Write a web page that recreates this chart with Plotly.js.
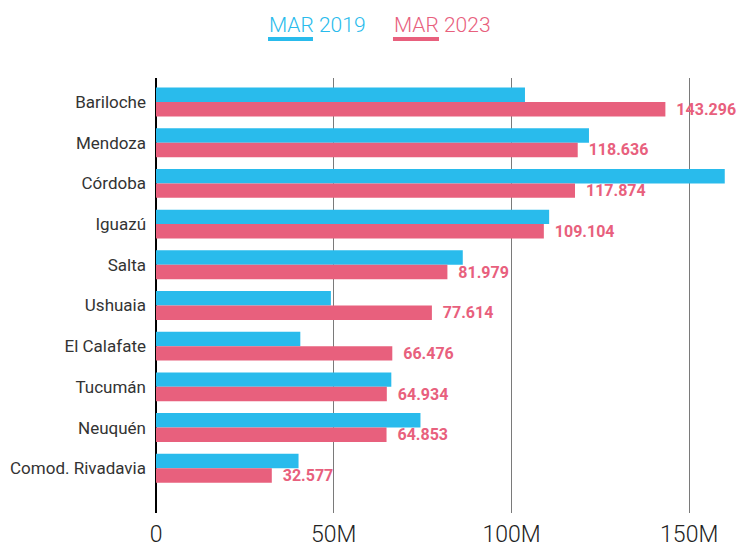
<!DOCTYPE html>
<html>
<head>
<meta charset="utf-8">
<script src="https://cdn.plot.ly/plotly-3.0.1.min.js"></script>
<style>html,body{margin:0;padding:0;background:#fff;}#chart{width:739px;height:548px;}</style>
</head>
<body>
<div id="chart"></div>
<script>
const categories = ["Bariloche","Mendoza","Córdoba","Iguazú","Salta","Ushuaia","El Calafate","Tucumán","Neuquén","Comod. Rivadavia"];
const values2019 = [103.8e6,121.8e6,160.0e6,110.6e6,86.3e6,49.2e6,40.6e6,66.2e6,74.4e6,40.1e6];
const values2023 = [143.296e6,118.636e6,117.874e6,109.104e6,81.979e6,77.614e6,66.476e6,64.934e6,64.853e6,32.577e6];
const labels2023 = ["143.296","118.636","117.874","109.104","81.979","77.614","66.476","64.934","64.853","32.577"];
const tickVals = [0,50e6,100e6,150e6];
const tickText = ["0","50M","100M","150M"];
const seriesNames = ["MAR 2019","MAR 2023"];

const BLUE = "#29bbec", PINK = "#e8607d";
const FONT = "Roboto, sans-serif";

const traces = [
  {type:"bar", orientation:"h", name:seriesNames[0], y:categories, x:values2019,
   marker:{color:BLUE}, hoverinfo:"skip"},
  {type:"bar", orientation:"h", name:seriesNames[1], y:categories, x:values2023,
   marker:{color:PINK},
   text: labels2023.map(t => "\u00a0\u00a0" + t),
   textposition:"outside", cliponaxis:false, constraintext:"none",
   textfont:{family:FONT, size:16, color:PINK, weight:"bold"}, hoverinfo:"skip"}
];

const layout = {
  width:739, height:548,
  margin:{l:156, r:5, t:78, b:35},
  paper_bgcolor:"#fff", plot_bgcolor:"#fff",
  barmode:"group", bargap:0.29, bargroupgap:0,
  showlegend:false,
  font:{family:FONT, color:"#333"},
  xaxis:{range:[0,162.6e6], tickvals:tickVals, ticktext:tickText,
         showgrid:true, gridcolor:"#7a7a7a", gridwidth:1,
         zeroline:true, zerolinecolor:"#000", zerolinewidth:1.5,
         showline:false, ticks:"", ticklabelstandoff:5,
         tickfont:{family:FONT, size:23, color:"#222", weight:300}, fixedrange:true},
  yaxis:{type:"category", range:[10.1,-0.59], showgrid:false, zeroline:false,
         showline:false, ticks:"", ticklabelstandoff:9,
         tickfont:{family:FONT, size:17, color:"#333"}, fixedrange:true},
  annotations:[
    {xref:"paper", yref:"paper", x:0.1925, y:1.122, xanchor:"left", yanchor:"middle",
     text:seriesNames[0], showarrow:false, font:{family:FONT, size:21, color:BLUE, weight:300}},
    {xref:"paper", yref:"paper", x:0.4085, y:1.122, xanchor:"left", yanchor:"middle",
     text:seriesNames[1], showarrow:false, font:{family:FONT, size:21, color:PINK, weight:300}}
  ],
  shapes:[
    {type:"line", xref:"paper", yref:"paper", x0:0.1938, x1:0.2716, y0:1.0897, y1:1.0897,
     line:{color:BLUE, width:4}},
    {type:"line", xref:"paper", yref:"paper", x0:0.41, x1:0.4896, y0:1.0897, y1:1.0897,
     line:{color:PINK, width:4}}
  ]
};

Plotly.newPlot("chart", traces, layout, {displayModeBar:false, staticPlot:true});
</script>
</body>
</html>
